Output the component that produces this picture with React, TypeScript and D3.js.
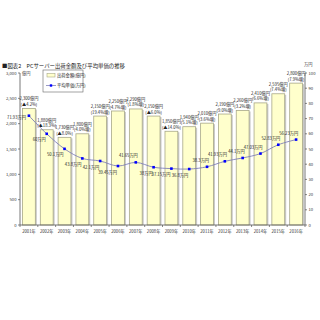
import React from "react";
import * as d3 from "d3";

const years = ["2001年","2002年","2003年","2004年","2005年","2006年","2007年","2008年","2009年","2010年","2011年","2012年","2013年","2014年","2015年","2016年"];
const shipment = [2300,1880,1730,1800,2150,2250,2290,2150,1850,1940,2010,2190,2260,2410,2590,2800];
const shipmentLabel = ["2,300億円","1,880億円","1,730億円","1,800億円","2,150億円","2,250億円","2,290億円","2,150億円","1,850億円","1,940億円","2,010億円","2,190億円","2,260億円","2,410億円","2,595億円","2,800億円"];
const changeLabel = ["(▲4.2%)","(▲18.3%)","(▲8.0%)","(4.0%増)","(19.4%増)","(4.7%増)","(1.8%増)","(▲6.0%)","(▲14.0%)","(5.1%増)","(3.6%増)","(9.0%増)","(3.2%増)","(6.6%増)","(7.4%増)","(7.9%増)"];
const unitPrice = [71.9,60,50.1,43.8,42.1,38.8,41.2,38,37.1,36.8,38.3,41.9,44.1,47.0,52.8,56.2];
const priceLabel = ["71.93万円","60万円","50.1万円","43.8万円","42.1万円","39.45万円","41.65万円","38万円","37.15万円","36.8万円","38.3万円","41.93万円","44.1万円","47.03万円","52.83万円","56.23万円"];
const priceLabelAbove = [false,false,false,false,false,false,true,false,false,false,true,true,true,true,true,true];
const leftTicks = [0,500,1000,1500,2000,2500,3000];
const rightTicks = [0,10,20,30,40,50,60,70,80,90,100];

const FONT = "'Noto Sans CJK JP', 'Noto Sans', sans-serif";

export default function App() {
  const W = 320, H = 320;
  const left = 20, right = 305, top = 73, bottom = 225;
  const x = d3.scaleBand<string>().domain(years).range([left, right]).paddingInner(0.28).paddingOuter(0.14);
  const yL = d3.scaleLinear().domain([0, 3000]).range([bottom, top]);
  const yR = d3.scaleLinear().domain([0, 100]).range([bottom, top]);
  const cx = (i: number) => (x(years[i]) as number) + x.bandwidth() / 2;
  const line = d3.line<number>().x((_, i) => cx(i)).y(d => yR(d)).curve(d3.curveCatmullRom.alpha(0.5));
  const fs = 4.2;
  const step = x.step();

  return (
    <svg width={W} height={H} style={{ position: "absolute", left: 0, top: 0, background: "#fff" }} fontFamily={FONT}>
      <rect x={0} y={0} width={W} height={H} fill="#fff" />
      <text x={2} y={68} fontSize={5.4} fill="#222">■図表2　PCサーバー出荷金額及び平均単価の推移</text>

      {/* bars */}
      {shipment.map((v, i) => (
        <g key={"b" + i}>
          <rect x={(x(years[i]) as number) + 1.5} y={yL(v) + 1} width={x.bandwidth()} height={bottom - yL(v) - 1} fill="#c8c8c8" />
          <rect x={x(years[i])} y={yL(v)} width={x.bandwidth()} height={bottom - yL(v)} fill="#ffffcc" stroke="#a8a888" strokeWidth={0.8} />
          <text x={cx(i)} y={yL(v) - 8} fontSize={fs} textAnchor="middle" fill="#222">{shipmentLabel[i]}</text>
          <text x={cx(i)} y={yL(v) - 2.5} fontSize={fs} textAnchor="middle" fill="#222">{changeLabel[i]}</text>
        </g>
      ))}

      {/* axes */}
      <line x1={left} x2={left} y1={top} y2={bottom} stroke="#555" strokeWidth={0.8} />
      <line x1={right} x2={right} y1={top} y2={bottom} stroke="#555" strokeWidth={0.8} />
      <line x1={left} x2={right} y1={bottom} y2={bottom} stroke="#555" strokeWidth={0.8} />
      {leftTicks.map(t => (
        <g key={"l" + t}>
          <line x1={left - 2} x2={left} y1={yL(t)} y2={yL(t)} stroke="#555" strokeWidth={0.7} />
          <text x={left - 3.5} y={yL(t) + 1.5} fontSize={fs} textAnchor="end" fill="#333">{d3.format(",")(t)}</text>
        </g>
      ))}
      {rightTicks.map(t => (
        <g key={"r" + t}>
          <line x1={right} x2={right + 2} y1={yR(t)} y2={yR(t)} stroke="#555" strokeWidth={0.7} />
          <text x={right + 3.5} y={yR(t) + 1.5} fontSize={fs} textAnchor="start" fill="#333">{t}</text>
        </g>
      ))}
      {years.map((yr, i) => (
        <g key={"x" + i}>
          <line x1={left + step * i} x2={left + step * i} y1={bottom} y2={bottom + 2} stroke="#555" strokeWidth={0.7} />
          <text x={cx(i)} y={bottom + 8} fontSize={fs} textAnchor="middle" fill="#333">{yr}</text>
        </g>
      ))}
      <line x1={right} x2={right} y1={bottom} y2={bottom + 2} stroke="#555" strokeWidth={0.7} />
      <text x={left + 2} y={top + 1.5} fontSize={fs} fill="#333">億円</text>
      <text x={right - 1} y={top - 7} fontSize={fs} fill="#333">万円</text>

      {/* line */}
      <path d={line(unitPrice) || ""} fill="none" stroke="#8080b8" strokeWidth={0.9} />
      {unitPrice.map((v, i) => (
        <g key={"p" + i}>
          <rect x={cx(i) - 1.3} y={yR(v) - 1.3} width={2.6} height={2.6} fill="#0000ff" />
          <text x={i === 0 ? cx(i) - 3 : cx(i) + (priceLabelAbove[i] ? 2 : -1)} y={i === 0 ? yR(v) + 3 : priceLabelAbove[i] ? yR(v) - 5 : yR(v) + 7.5} fontSize={fs} textAnchor="end" fill="#222">{priceLabel[i]}</text>
        </g>
      ))}

      {/* legend */}
      <rect x={43} y={70} width={40} height={22} fill="#fff" stroke="#666" strokeWidth={0.6} />
      <rect x={47} y={73.5} width={8} height={3.5} fill="#ffffcc" stroke="#a8a888" strokeWidth={0.6} />
      <text x={57} y={76.8} fontSize={4.3} fill="#222">出荷金額(億円)</text>
      <line x1={46} x2={56} y1={85.5} y2={85.5} stroke="#8080b8" strokeWidth={0.8} />
      <rect x={49.8} y={84.3} width={2.4} height={2.4} fill="#0000ff" />
      <text x={57} y={87} fontSize={4.3} fill="#222">平均単価(万円)</text>
    </svg>
  );
}
